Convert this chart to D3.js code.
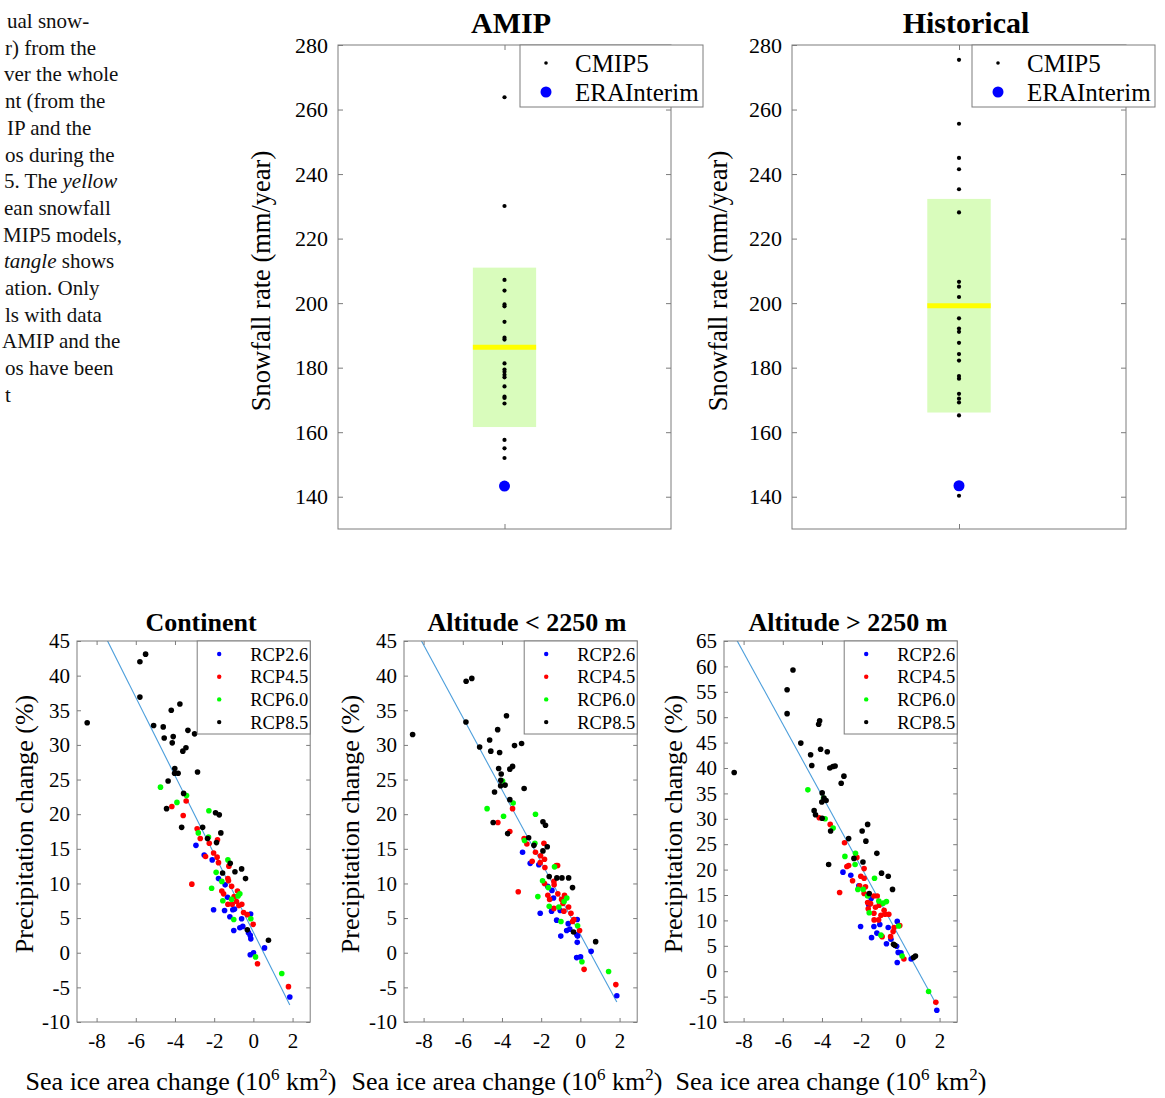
<!DOCTYPE html>
<html><head><meta charset="utf-8">
<script src="https://cdn.jsdelivr.net/npm/d3@7"></script>
<style>
body{margin:0;background:#fff}
svg{display:block}
text{font-family:"Liberation Serif","Times New Roman",serif}
</style>
</head><body>
<svg id="c" width="1165" height="1098"></svg>
<script>
// ---------- caption fragment ----------
const captionLines = [
  [["ual snow-", false]],
  [["r) from the", false]],
  [["ver the whole", false]],
  [["nt (from the", false]],
  [["IP and the", false]],
  [["os during the", false]],
  [["5. The ", false], ["yellow", true]],
  [["ean snowfall", false]],
  [["MIP5 models,", false]],
  [["tangle", true], [" shows", false]],
  [["ation. Only", false]],
  [["ls with data", false]],
  [["AMIP and the", false]],
  [["os have been", false]],
  [["t", false]]
];
const captionX = [7, 5, 4, 5, 7, 5, 4, 4, 3, 4, 5, 5, 2, 5, 5];

// ---------- top panels ----------
const snowTicks = [140, 160, 180, 200, 220, 240, 260, 280];
const snowDomain = [130, 280];
const amipCMIP5 = [263.8, 230.1, 207.2, 203.9, 199.6, 199.0, 194.2, 189.3, 188.7, 181.3, 179.4,
  178.7, 177.8, 177.0, 174.2, 171.0, 170.6, 168.9, 157.6, 155.0, 152.0];
const amipERA = 143.3;
const amipMeanStd = [186.3, 24.7];
const histCMIP5 = [275.4, 255.6, 245.0, 241.5, 235.3, 228.1, 206.6, 205.1, 201.9, 195.3, 192.1,
  191.1, 187.7, 184.2, 182.2, 177.4, 176.6, 171.9, 170.4, 169.2, 165.2, 140.3];
const histERA = 143.4;
const histMeanStd = [199.2, 33.1];
const topLegend = ["CMIP5", "ERAInterim"];

// ---------- bottom panels ----------
const scenarios = ["RCP2.6", "RCP4.5", "RCP6.0", "RCP8.5"];
const scenarioColors = ["#0000ff", "#ff0000", "#00ff00", "#000000"];
const seaIceTicks = [-8, -6, -4, -2, 0, 2];
const seaIceDomain = [-9, 2.9];
const precipTicksA = [-10, -5, 0, 5, 10, 15, 20, 25, 30, 35, 40, 45];
const precipTicksB = [-10, -5, 0, 5, 10, 15, 20, 25, 30, 35, 40, 45, 50, 55, 60, 65];

const contRcp26 = [[-2.93,15.5],[-2.51,14.1],[-2.10,13.4],[-1.78,10.7],[-1.44,9.8],[-1.32,8.0],[-2.03,6.2],[-1.47,6.1],[-1.05,6.2],[-0.96,6.3],[-1.20,5.2],[-0.60,4.9],[-0.69,3.6],[-0.54,3.8],[-1.00,3.2],[-0.14,5.6],[-0.25,2.9],[-0.16,2.5],[-0.13,2.0],[0.01,0.0],[-0.16,-0.3],[0.57,0.7],[1.86,-6.4]];
const contRcp45 = [[-4.16,21.1],[-3.43,21.9],[-3.58,19.8],[-2.87,17.9],[-3.14,9.9],[-2.71,16.5],[-2.44,13.9],[-2.25,15.8],[-2.03,14.4],[-1.85,13.8],[-1.83,16.3],[-1.78,13.0],[-1.25,12.5],[-1.30,10.7],[-1.27,10.4],[-1.11,9.6],[-1.61,8.9],[-1.52,8.5],[-0.98,8.1],[-0.81,8.9],[-1.30,7.0],[-1.08,7.0],[-0.86,7.4],[-0.59,7.0],[-0.74,6.8],[-0.50,5.8],[-0.31,5.5],[-0.01,4.1],[0.21,-1.6],[1.79,-4.9]];
const contRcp60 = [[-4.74,23.9],[-3.41,22.7],[-3.90,21.7],[-2.27,20.5],[-2.81,17.3],[-2.29,16.7],[-1.30,13.4],[-1.90,11.6],[-2.13,9.3],[-1.61,10.3],[-1.56,7.5],[-1.11,7.7],[-0.78,8.2],[-0.69,8.5],[-1.00,4.8],[-0.13,4.9],[0.11,-0.6],[1.45,-3.0]];
const contRcp85 = [[-5.50,43.1],[-5.79,42.0],[-5.79,36.9],[-8.48,33.2],[-3.75,35.9],[-4.19,35.0],[-5.09,32.8],[-4.60,32.6],[-4.55,31.0],[-4.09,31.2],[-4.14,30.3],[-3.34,32.1],[-3.00,31.6],[-3.44,29.6],[-3.60,29.1],[-4.01,26.6],[-4.02,25.9],[-3.84,25.9],[-2.85,26.1],[-4.35,24.8],[-3.56,23.0],[-4.43,20.8],[-1.93,20.2],[-1.74,19.9],[-3.66,18.1],[-2.59,18.1],[-2.34,16.5],[-1.88,15.9],[-1.66,17.3],[-1.18,12.9],[-1.57,11.5],[-0.94,11.7],[-0.60,12.1],[-0.40,10.7],[-0.31,3.3],[0.77,1.8]];
const contFit = [2.96, -5.65];

const lowRcp26 = [[-2.95,14.5],[-2.56,12.9],[-2.12,12.7],[-1.67,9.6],[-1.45,9.0],[-1.37,7.9],[-2.05,5.7],[-1.47,6.0],[-1.03,6.1],[-1.21,4.7],[-0.62,4.2],[-0.70,3.2],[-0.54,3.4],[-1.00,2.4],[-0.16,4.8],[-0.18,2.6],[-0.14,2.4],[-0.16,1.5],[-0.19,-0.7],[0.01,-0.6],[0.55,0.2],[1.86,-6.2]];
const lowRcp45 = [[-3.46,20.8],[-4.21,18.8],[-3.60,17.5],[-3.17,8.8],[-2.87,16.5],[-2.73,15.7],[-2.46,13.2],[-2.29,14.5],[-2.03,14.0],[-2.05,13.0],[-1.86,15.8],[-1.83,13.5],[-1.81,12.3],[-1.23,12.6],[-1.16,12.6],[-1.83,10.0],[-1.35,10.3],[-1.34,9.8],[-1.66,8.3],[-1.57,7.7],[-1.35,6.4],[-1.15,8.5],[-0.96,7.7],[-0.89,7.1],[-0.81,8.3],[-0.84,6.0],[-0.60,6.6],[-0.48,5.7],[-0.33,4.8],[-0.40,4.5],[-0.04,3.2],[0.19,-2.4],[1.81,-4.6]];
const lowRcp60 = [[-3.97,24.8],[-4.76,20.8],[-3.43,21.6],[-3.92,19.7],[-2.29,20.0],[-2.85,16.2],[-2.32,15.8],[-1.32,12.4],[-1.93,10.4],[-2.17,8.1],[-1.64,9.4],[-1.59,6.7],[-1.10,6.6],[-0.83,7.4],[-0.69,7.9],[-0.99,4.5],[-0.14,3.9],[0.08,-1.3],[1.44,-2.7]];
const lowRcp85 = [[-8.56,31.5],[-5.83,39.2],[-5.54,39.6],[-5.84,33.3],[-3.77,34.2],[-4.22,32.2],[-4.63,30.7],[-5.14,29.7],[-4.57,29.1],[-4.12,28.9],[-3.36,29.9],[-3.00,30.2],[-4.17,26.6],[-3.46,26.9],[-3.60,26.5],[-4.04,25.8],[-4.06,24.9],[-3.84,24.2],[-4.07,24.1],[-2.87,23.7],[-4.38,23.2],[-3.60,22.1],[-1.91,18.9],[-1.78,18.4],[-4.45,18.8],[-3.71,17.2],[-2.64,16.6],[-2.37,15.5],[-1.69,15.3],[-1.91,14.7],[-1.59,11.0],[-1.20,10.8],[-0.94,10.8],[-0.60,10.8],[-0.40,9.4],[-0.35,3.0],[0.78,1.6]];
const lowFit = [2.6, -5.23];

const highRcp26 = [[-2.93,19.5],[-2.53,18.9],[-2.12,16.8],[-1.49,14.3],[-1.62,13.1],[-2.03,8.8],[-1.47,6.6],[-1.35,8.8],[-1.20,7.5],[-1.05,9.2],[-0.71,5.4],[-0.62,8.6],[-0.48,6.3],[-0.16,9.8],[-0.19,4.9],[-0.11,3.7],[0.03,3.6],[-0.16,1.7],[0.55,2.4],[1.86,-7.7]];
const highRcp45 = [[-4.14,30.2],[-3.58,28.9],[-2.85,25.3],[-2.73,20.6],[-2.64,20.8],[-2.44,17.8],[-2.22,22.4],[-2.02,18.7],[-1.85,18.3],[-1.85,20.2],[-2.08,16.8],[-1.78,16.6],[-1.85,15.3],[-1.67,13.5],[-1.52,13.3],[-1.64,12.3],[-1.35,14.8],[-1.18,14.8],[-1.27,12.6],[-1.35,11.4],[-1.34,10.1],[-1.11,10.1],[-1.08,13.0],[-0.99,11.0],[-0.83,12.0],[-0.78,11.2],[-0.59,11.2],[-0.93,6.8],[-0.50,6.8],[-0.37,7.8],[-0.32,8.6],[-0.03,9.0],[0.18,2.4],[1.81,-6.1],[-3.10,15.5]];
const highRcp60 = [[-4.72,35.7],[-3.92,34.1],[-3.84,30.0],[-3.43,28.2],[-2.83,22.6],[-2.29,23.2],[-2.31,21.0],[-1.32,18.3],[-2.17,16.1],[-1.90,16.1],[-1.67,14.8],[-1.59,11.5],[-1.10,13.8],[-0.88,13.4],[-0.71,13.7],[-0.99,7.1],[-0.09,8.9],[0.09,3.0],[1.44,-4.0]];
const highRcp85 = [[-8.48,39.1],[-5.48,59.3],[-5.78,55.4],[-5.78,50.7],[-4.12,49.3],[-4.17,48.6],[-5.08,44.9],[-4.07,43.7],[-3.73,43.2],[-4.58,42.6],[-4.52,40.5],[-3.60,40.0],[-3.44,40.3],[-3.33,40.4],[-2.88,38.4],[-3.02,37.0],[-3.99,35.1],[-3.90,34.1],[-3.79,33.6],[-4.01,33.3],[-4.40,31.6],[-4.33,30.8],[-3.99,30.1],[-1.67,28.9],[-3.56,27.6],[-1.95,27.6],[-1.76,25.6],[-2.64,26.1],[-2.37,22.2],[-1.91,21.5],[-1.20,23.2],[-3.66,21.0],[-0.96,19.3],[-0.62,18.7],[-0.40,16.1],[-1.59,15.3],[-0.35,5.3],[-0.28,5.1],[0.77,3.0],[0.67,2.7]];
const highFit = [6.4, -7.04];

// ---------- drawing ----------
const svg = d3.select("#c");
const FRAME = "#7c7c7c";
const SERIF = '"Liberation Serif","Times New Roman",serif';
const fmtTick = d => String(d);

function styleAxis(g, fs) {
  g.attr("font-family", SERIF).attr("font-size", fs);
  g.select(".domain").remove();
  g.selectAll("line").attr("stroke", FRAME);
  g.selectAll("text").attr("fill", "#000");
}

// caption
captionLines.forEach((segs, i) => {
  const t = svg.append("text").attr("font-size", 21).attr("fill", "#111")
    .attr("x", captionX[i]).attr("y", 28 + i * 26.7);
  segs.forEach(([s, it]) => t.append("tspan").attr("font-style", it ? "italic" : "normal").text(s));
});

function topPanel(cfg) {
  const x = d3.scaleLinear().domain([0, 2]).range([cfg.left, cfg.right]);
  const y = d3.scaleLinear().domain(snowDomain).range([529, 45]);
  const g = svg.append("g");
  const half = 0.19;
  const [m, s] = cfg.stats;
  g.append("rect").attr("x", x(1 - half)).attr("width", x(1 + half) - x(1 - half))
    .attr("y", y(m + s)).attr("height", y(m - s) - y(m + s)).attr("fill", "#d9fcbc");
  g.append("line").attr("x1", x(1 - half)).attr("x2", x(1 + half))
    .attr("y1", y(m)).attr("y2", y(m)).attr("stroke", "#ffff00").attr("stroke-width", 5);
  g.selectAll("circle.c").data(cfg.values).join("circle")
    .attr("cx", x(1)).attr("cy", d => y(d)).attr("r", 2.1).attr("fill", "#000");
  g.append("circle").attr("cx", x(1)).attr("cy", y(cfg.era)).attr("r", 5.5).attr("fill", "#0000ff");
  g.append("rect").attr("x", cfg.left).attr("y", 45).attr("width", cfg.right - cfg.left).attr("height", 484)
    .attr("fill", "none").attr("stroke", FRAME).attr("stroke-width", 1);
  const ax = g.append("g").attr("transform", `translate(${cfg.left},0)`)
    .call(d3.axisLeft(y).tickValues(snowTicks).tickSizeInner(-5).tickSizeOuter(0).tickPadding(10).tickFormat(fmtTick));
  styleAxis(ax, 22);
  const axr = g.append("g").attr("transform", `translate(${cfg.right},0)`)
    .call(d3.axisRight(y).tickValues(snowTicks).tickSizeInner(-5).tickSizeOuter(0).tickFormat(""));
  styleAxis(axr, 22);
  const axt = g.append("g").attr("transform", `translate(0,45)`)
    .call(d3.axisTop(x).tickValues([1]).tickSizeInner(-5).tickSizeOuter(0).tickFormat(""));
  styleAxis(axt, 22);
  const axb = g.append("g").attr("transform", `translate(0,529)`)
    .call(d3.axisBottom(x).tickValues([1]).tickSizeInner(-5).tickSizeOuter(0).tickFormat(""));
  styleAxis(axb, 22);
  const lg = g.append("g");
  lg.append("rect").attr("x", cfg.legLeft).attr("y", 45).attr("width", 183).attr("height", 62)
    .attr("fill", "#fff").attr("stroke", FRAME);
  lg.append("circle").attr("cx", cfg.legLeft + 26).attr("cy", 63).attr("r", 1.8).attr("fill", "#000");
  lg.append("circle").attr("cx", cfg.legLeft + 26).attr("cy", 92).attr("r", 5.5).attr("fill", "#0000ff");
  topLegend.forEach((t, i) => lg.append("text").attr("x", cfg.legLeft + 55).attr("y", 63 + i * 29 + 9)
    .attr("font-size", 25).attr("fill", "#000").text(t));
  g.append("text").attr("x", cfg.titleX).attr("y", 33).attr("text-anchor", "middle")
    .attr("font-size", 30).attr("font-weight", "bold").text(cfg.title);
  g.append("text").attr("transform", `translate(${cfg.ylabX},281) rotate(-90)`)
    .attr("text-anchor", "middle").attr("font-size", 26.5).text("Snowfall rate (mm/year)");
}

topPanel({left: 338, right: 671, values: amipCMIP5, era: amipERA, stats: amipMeanStd,
  legLeft: 520, title: "AMIP", titleX: 511, ylabX: 270});
topPanel({left: 792, right: 1126, values: histCMIP5, era: histERA, stats: histMeanStd,
  legLeft: 972, title: "Historical", titleX: 966, ylabX: 727});

function bottomPanel(cfg) {
  const T = 641, B = 1022;
  const x = d3.scaleLinear().domain(seaIceDomain).range([cfg.left, cfg.left + 233.2]);
  const y = d3.scaleLinear().domain([-10, cfg.ymax]).range([B, T]);
  const R = cfg.left + 233.2;
  const g = svg.append("g");
  const clipId = "clip" + cfg.left;
  svg.append("clipPath").attr("id", clipId).append("rect")
    .attr("x", cfg.left).attr("y", T).attr("width", R - cfg.left).attr("height", B - T);
  const plot = g.append("g").attr("clip-path", `url(#${clipId})`);
  const all = cfg.series.flat();
  const xr = d3.extent(all, d => d[0]);
  const [a, b] = cfg.fit;
  plot.append("line").attr("x1", x(xr[0])).attr("x2", x(xr[1]))
    .attr("y1", y(a + b * xr[0])).attr("y2", y(a + b * xr[1]))
    .attr("stroke", "#4c9edb").attr("stroke-width", 1.1);
  cfg.series.forEach((ser, i) => {
    plot.append("g").selectAll("circle").data(ser).join("circle")
      .attr("cx", d => x(d[0])).attr("cy", d => y(d[1])).attr("r", 2.8)
      .attr("fill", scenarioColors[i]);
  });
  g.append("rect").attr("x", cfg.left).attr("y", T).attr("width", R - cfg.left).attr("height", B - T)
    .attr("fill", "none").attr("stroke", FRAME);
  const ax = g.append("g").attr("transform", `translate(${cfg.left},0)`)
    .call(d3.axisLeft(y).tickValues(cfg.yticks).tickSizeInner(-4).tickSizeOuter(0).tickPadding(7).tickFormat(fmtTick));
  styleAxis(ax, 21);
  const axr = g.append("g").attr("transform", `translate(${R},0)`)
    .call(d3.axisRight(y).tickValues(cfg.yticks).tickSizeInner(-4).tickSizeOuter(0).tickFormat(""));
  styleAxis(axr, 21);
  const axb = g.append("g").attr("transform", `translate(0,${B})`)
    .call(d3.axisBottom(x).tickValues(seaIceTicks).tickSizeInner(-4).tickSizeOuter(0).tickPadding(11).tickFormat(fmtTick));
  styleAxis(axb, 21);
  const axt = g.append("g").attr("transform", `translate(0,${T})`)
    .call(d3.axisTop(x).tickValues(seaIceTicks).tickSizeInner(-4).tickSizeOuter(0).tickFormat(""));
  styleAxis(axt, 21);
  const lw = 113, lx = R - lw;
  const lg = g.append("g");
  lg.append("rect").attr("x", lx).attr("y", T).attr("width", lw).attr("height", 93)
    .attr("fill", "#fff").attr("stroke", FRAME);
  scenarios.forEach((s, i) => {
    const yy = 654 + i * 22.7;
    lg.append("circle").attr("cx", lx + 22).attr("cy", yy).attr("r", 2.2).attr("fill", scenarioColors[i]);
    lg.append("text").attr("x", lx + 53).attr("y", yy + 6.5).attr("font-size", 18.5).attr("fill", "#000").text(s);
  });
  g.append("text").attr("x", cfg.titleX).attr("y", 631).attr("text-anchor", "middle")
    .attr("font-size", 26).attr("font-weight", "bold").text(cfg.title);
  g.append("text").attr("transform", `translate(${cfg.ylabX},824) rotate(-90)`)
    .attr("text-anchor", "middle").attr("font-size", 26).text("Precipitation change (%)");
  const xl = g.append("text").attr("x", cfg.xlabX).attr("y", 1090).attr("text-anchor", "middle")
    .attr("font-size", 26);
  xl.append("tspan").text("Sea ice area change (10");
  xl.append("tspan").attr("dy", -10).attr("font-size", 17).text("6");
  xl.append("tspan").attr("dy", 10).text(" km");
  xl.append("tspan").attr("dy", -10).attr("font-size", 17).text("2");
  xl.append("tspan").attr("dy", 10).text(")");
}

bottomPanel({left: 77, ymax: 45, yticks: precipTicksA, series: [contRcp26, contRcp45, contRcp60, contRcp85],
  fit: contFit, title: "Continent", titleX: 201, ylabX: 33, xlabX: 181});
bottomPanel({left: 404, ymax: 45, yticks: precipTicksA, series: [lowRcp26, lowRcp45, lowRcp60, lowRcp85],
  fit: lowFit, title: "Altitude < 2250 m", titleX: 527, ylabX: 359, xlabX: 507});
bottomPanel({left: 724, ymax: 65, yticks: precipTicksB, series: [highRcp26, highRcp45, highRcp60, highRcp85],
  fit: highFit, title: "Altitude > 2250 m", titleX: 848, ylabX: 682, xlabX: 831});
</script>
</body></html>
